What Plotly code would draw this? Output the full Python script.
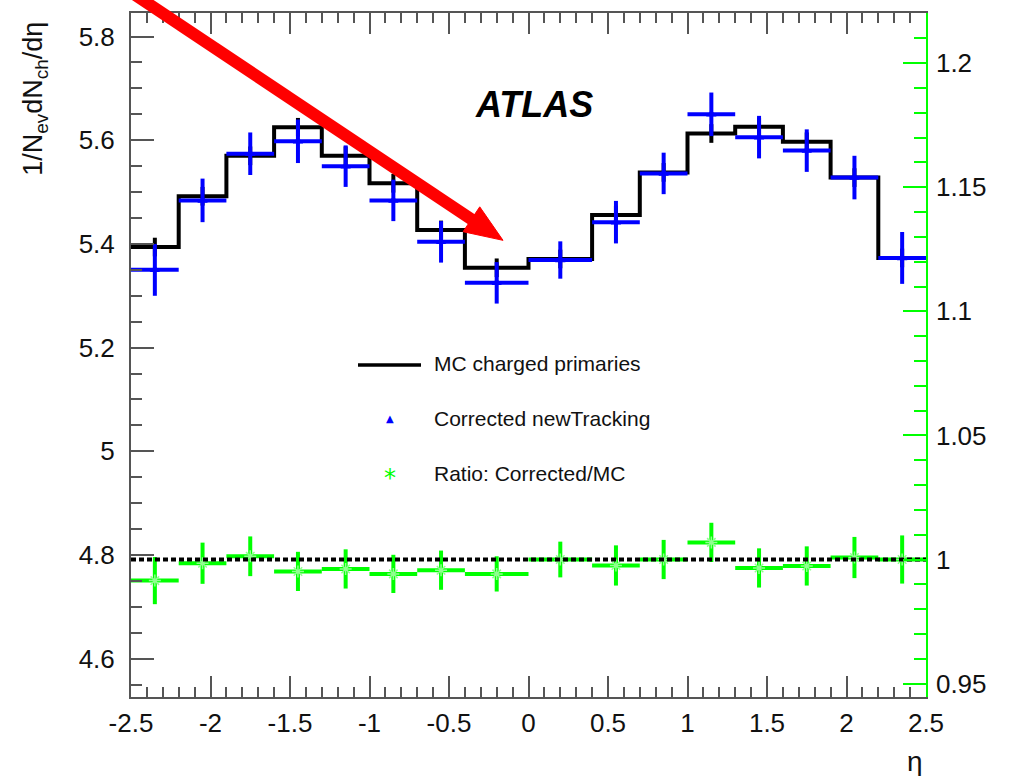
import plotly.graph_objects as go

# ---- data ----
bin_edges = [-2.5, -2.2, -1.9, -1.6, -1.3, -1.0, -0.7, -0.4, 0.0, 0.4, 0.7, 1.0, 1.3, 1.6, 1.9, 2.2, 2.5]
mc_primaries = [5.394, 5.492, 5.570, 5.625, 5.570, 5.517, 5.427, 5.354,
                5.371, 5.456, 5.538, 5.613, 5.626, 5.597, 5.528, 5.373]
mc_err = [0.018] * 16
corrected = [5.350, 5.484, 5.574, 5.598, 5.550, 5.484, 5.404, 5.325,
             5.369, 5.442, 5.536, 5.650, 5.606, 5.580, 5.528, 5.373]
corrected_err = [0.050, 0.042, 0.041, 0.042, 0.040, 0.040, 0.040, 0.040,
                 0.036, 0.041, 0.040, 0.042, 0.041, 0.041, 0.042, 0.050]
ratio = [0.9915, 0.9985, 1.0013, 0.9952, 0.9962, 0.9942, 0.9957, 0.9942,
         1.0000, 0.9976, 1.0000, 1.0069, 0.9966, 0.9974, 1.0008, 1.0000]
ratio_err = [0.0095, 0.0083, 0.0080, 0.0079, 0.0079, 0.0077, 0.0079, 0.0071,
             0.0072, 0.0081, 0.0079, 0.0079, 0.0079, 0.0079, 0.0083, 0.0097]
x_tickvals = [-2.5, -2, -1.5, -1, -0.5, 0, 0.5, 1, 1.5, 2, 2.5]
x_ticktext = ["-2.5", "-2", "-1.5", "-1", "-0.5", "0", "0.5", "1", "1.5", "2", "2.5"]
legend_names = ["MC charged primaries", "Corrected newTracking", "Ratio: Corrected/MC"]

centers = [(a + b) / 2 for a, b in zip(bin_edges[:-1], bin_edges[1:])]
half_w = [(b - a) / 2 for a, b in zip(bin_edges[:-1], bin_edges[1:])]

W, H = 1009, 776
L, R, T, B = 131, 83, 11, 79
PW, PH = W - L - R, H - T - B


def px(x):
    return (x - L) / PW


def py(y):
    return (H - B - y) / PH


FONT = "Liberation Sans, Arial, Helvetica, sans-serif"
AX = "#555555"
GREEN = "#00ff00"
TICKSIZE = 26

fig = go.Figure()

# MC error bars (mostly hidden by blue)
fig.add_trace(go.Scatter(
    x=centers, y=mc_primaries, mode="markers",
    marker=dict(size=2, opacity=0),
    error_y=dict(type="data", array=mc_err, color="black", thickness=4, width=0),
    showlegend=False, hoverinfo="skip"))

# MC step histogram
fig.add_trace(go.Scatter(
    x=bin_edges, y=mc_primaries + [mc_primaries[-1]], mode="lines",
    line=dict(color="black", width=4, shape="hv"),
    showlegend=False))

# Corrected
fig.add_trace(go.Scatter(
    x=centers, y=corrected, mode="markers",
    marker=dict(symbol="triangle-up", size=9, color="blue"),
    error_x=dict(type="data", array=half_w, color="blue", thickness=4, width=0),
    error_y=dict(type="data", array=corrected_err, color="blue", thickness=4, width=0),
    showlegend=False))

# Ratio
fig.add_trace(go.Scatter(
    x=centers, y=ratio, mode="markers", yaxis="y2",
    marker=dict(symbol="asterisk-open", size=10, color="#90ff90",
                line=dict(color="#90ff90", width=1.5)),
    error_x=dict(type="data", array=half_w, color=GREEN, thickness=4, width=0),
    error_y=dict(type="data", array=ratio_err, color=GREEN, thickness=4, width=0),
    showlegend=False))

# ratio = 1 reference
fig.add_trace(go.Scatter(
    x=[bin_edges[0], bin_edges[-1]], y=[1, 1], mode="lines", yaxis="y2",
    line=dict(color="black", width=4, dash="5px,3px"),
    showlegend=False, hoverinfo="skip"))

shapes = []
annotations = []

# red arrow
tip = (503, 239)
d = (0.831, 0.556)
n = (-0.556, 0.831)
hl, hw = 38, 15
base = (tip[0] - hl * d[0], tip[1] - hl * d[1])
tail = (tip[0] - 460 * d[0], tip[1] - 460 * d[1])
shapes.append(dict(type="line", xref="paper", yref="paper",
                   x0=px(tail[0]), y0=py(tail[1]),
                   x1=px(base[0] + 4 * d[0]), y1=py(base[1] + 4 * d[1]),
                   line=dict(color="red", width=12)))
c1 = (base[0] + hw * n[0], base[1] + hw * n[1])
c2 = (base[0] - hw * n[0], base[1] - hw * n[1])
path = "M {} {} L {} {} L {} {} Z".format(px(tip[0]), py(tip[1]), px(c1[0]), py(c1[1]),
                                          px(c2[0]), py(c2[1]))
shapes.append(dict(type="path", xref="paper", yref="paper", path=path,
                   fillcolor="red", line=dict(color="red", width=1)))

# legend
shapes.append(dict(type="line", xref="paper", yref="paper",
                   x0=px(358), x1=px(421), y0=py(364), y1=py(364),
                   line=dict(color="black", width=3.5)))
leg_y = [363, 418, 473]
for name, yy in zip(legend_names, leg_y):
    annotations.append(dict(text=name, xref="paper", yref="paper", x=px(432), y=py(yy),
                            xanchor="left", yanchor="middle", showarrow=False,
                            font=dict(family=FONT, size=21, color="#111")))
annotations.append(dict(text="▲", xref="paper", yref="paper", x=px(390), y=py(418),
                        xanchor="center", yanchor="middle", showarrow=False,
                        font=dict(family="DejaVu Sans", size=10, color="blue")))
annotations.append(dict(text="*", xref="paper", yref="paper", x=px(390), y=py(477),
                        xanchor="center", yanchor="middle", showarrow=False,
                        font=dict(family="DejaVu Sans", size=24, color=GREEN)))

# ATLAS
annotations.append(dict(text="<b><i>ATLAS</i></b>", xref="paper", yref="paper",
                        x=px(534), y=py(103), xanchor="center", yanchor="middle",
                        showarrow=False, font=dict(family=FONT, size=36, color="black")))
# axis titles
annotations.append(dict(text="1/N<sub>ev</sub>dN<sub>ch</sub>/dη", xref="paper", yref="paper",
                        x=px(35), y=py(97), xanchor="center", yanchor="middle",
                        textangle=-90, showarrow=False,
                        font=dict(family=FONT, size=27, color="#111")))
annotations.append(dict(text="η", xref="paper", yref="paper",
                        x=px(915), y=py(762), xanchor="center", yanchor="middle",
                        showarrow=False, font=dict(family=FONT, size=28, color="#111")))

fig.update_layout(
    width=W, height=H,
    margin=dict(l=L, r=R, t=T, b=B, pad=0),
    plot_bgcolor="white", paper_bgcolor="white",
    showlegend=False,
    font=dict(family=FONT, size=TICKSIZE, color="#111"),
    shapes=shapes, annotations=annotations,
    xaxis=dict(range=[-2.5, 2.5], tickvals=x_tickvals, ticktext=x_ticktext,
               ticks="inside", ticklen=21, tickwidth=1.5, tickcolor=AX,
               showline=True, linecolor=AX, linewidth=2, mirror="ticks",
               showgrid=False, zeroline=False,
               minor=dict(dtick=0.1, tick0=0, ticks="inside", ticklen=10,
                          tickwidth=1.5, tickcolor=AX, showgrid=False),
               tickfont=dict(size=TICKSIZE), ticklabelstandoff=2),
    yaxis=dict(range=[4.5262, 5.8454], dtick=0.2, tick0=4.6,
               ticks="inside", ticklen=23, tickwidth=1.5, tickcolor=AX,
               showline=True, linecolor=AX, linewidth=2, mirror=False,
               showgrid=False, zeroline=False,
               minor=dict(dtick=0.05, tick0=4.6, ticks="inside", ticklen=11,
                          tickwidth=1.5, tickcolor=AX, showgrid=False),
               tickfont=dict(size=TICKSIZE), ticklabelstandoff=9),
    yaxis2=dict(range=[0.9446, 1.2202], dtick=0.05, tick0=0.95,
                overlaying="y", side="right", anchor="x",
                ticks="inside", ticklen=23, tickwidth=1.5, tickcolor=GREEN,
                showline=True, linecolor=GREEN, linewidth=1.5,
                showgrid=False, zeroline=False,
                minor=dict(dtick=0.01, tick0=0.95, ticks="inside", ticklen=12,
                           tickwidth=1.5, tickcolor=GREEN, showgrid=False),
                tickfont=dict(size=TICKSIZE, color="#111"), ticklabelstandoff=3),
)

fig.write_html("out.html")
